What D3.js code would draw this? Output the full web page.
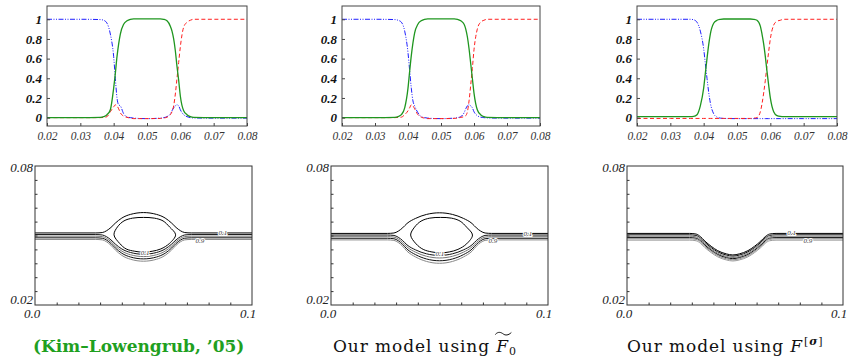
<!DOCTYPE html>
<html>
<head>
<meta charset="utf-8">
<script src="https://cdn.jsdelivr.net/npm/d3@7"></script>
<style>
  body { margin: 0; background: #fff; }
  svg { display: block; }
</style>
</head>
<body>
<svg id="fig" width="852" height="356"></svg>
<script>
// ---- profile plots (top row): sample positions and the three phase curves ----
const profX = [0.02, 0.03, 0.036, 0.037, 0.038, 0.039, 0.040, 0.0405, 0.041, 0.0415, 0.042, 0.043, 0.044, 0.045, 0.046, 0.050,
               0.054, 0.055, 0.056, 0.057, 0.0575, 0.058, 0.0585, 0.059, 0.0595, 0.060, 0.061, 0.062, 0.063, 0.064, 0.070, 0.080];

const klGreen = [0, 0, 0.003, 0.01, 0.03, 0.08, 0.3, 0.45, 0.62, 0.75, 0.85, 0.95, 0.985, 1.0, 1.005, 1.005,
                 1.005, 1.0, 0.985, 0.93, 0.88, 0.8, 0.68, 0.52, 0.38, 0.22, 0.07, 0.03, 0.01, 0.003, 0, 0];
const klBlue  = [1, 1, 0.997, 0.99, 0.96, 0.85, 0.62, 0.4, 0.2, 0.13, 0.12, 0.04, 0.008, 0, -0.005, -0.01,
                 -0.005, 0, 0.01, 0.04, 0.07, 0.1, 0.12, 0.13, 0.12, 0.08, 0.03, 0.01, 0, -0.003, -0.005, -0.005];
const klRed   = [0, 0, 0, 0.002, 0.01, 0.06, 0.11, 0.13, 0.12, 0.09, 0.05, 0.015, 0.003, -0.005, -0.01, -0.01,
                 -0.008, -0.004, 0.005, 0.03, 0.06, 0.12, 0.24, 0.4, 0.56, 0.72, 0.92, 0.97, 0.99, 1.0, 1.0, 1.0];

const f0Green = [0, 0, 0.003, 0.01, 0.03, 0.1, 0.3, 0.47, 0.63, 0.76, 0.86, 0.95, 0.985, 1.0, 1.005, 1.005,
                 1.005, 1.0, 0.985, 0.95, 0.9, 0.82, 0.7, 0.55, 0.4, 0.25, 0.08, 0.03, 0.01, 0.003, 0, 0];
const f0Blue  = [1, 1, 0.997, 0.99, 0.97, 0.88, 0.66, 0.48, 0.3, 0.17, 0.12, 0.05, 0.01, 0, -0.005, -0.01,
                 -0.005, 0, 0.01, 0.05, 0.09, 0.12, 0.13, 0.12, 0.1, 0.06, 0.02, 0.005, 0, -0.003, -0.005, -0.005];
const f0Red   = [0, 0, 0, 0.002, 0.005, 0.03, 0.07, 0.1, 0.13, 0.12, 0.09, 0.03, 0.005, -0.005, -0.01, -0.01,
                 -0.008, -0.004, 0.003, 0.01, 0.02, 0.06, 0.17, 0.33, 0.5, 0.69, 0.9, 0.97, 0.99, 1.0, 1.0, 1.0];

const fsGreen = [0.01, 0.01, 0.01, 0.012, 0.03, 0.12, 0.3, 0.45, 0.6, 0.74, 0.85, 0.96, 0.99, 1.0, 1.003, 1.003,
                 1.003, 1.0, 0.99, 0.93, 0.85, 0.75, 0.62, 0.47, 0.33, 0.2, 0.06, 0.02, 0.012, 0.01, 0.01, 0.01];
const fsBlue  = [1, 1, 1, 0.995, 0.97, 0.88, 0.7, 0.55, 0.4, 0.26, 0.15, 0.04, 0.005, -0.005, -0.008, -0.01,
                 -0.01, -0.01, -0.01, -0.01, -0.01, -0.01, -0.01, -0.01, -0.01, -0.01, -0.01, -0.01, -0.01, -0.01, -0.01, -0.01];
const fsRed   = [-0.008, -0.008, -0.008, -0.008, -0.008, -0.008, -0.008, -0.008, -0.008, -0.008, -0.008, -0.008, -0.008, -0.008, -0.008, -0.008,
                 -0.008, -0.005, 0, 0.06, 0.14, 0.25, 0.38, 0.53, 0.67, 0.8, 0.94, 0.98, 0.99, 1.0, 1.0, 1.0];

const profXTicks = [0.02, 0.03, 0.04, 0.05, 0.06, 0.07, 0.08];
const profYTicks = [0, 0.2, 0.4, 0.6, 0.8, 1];
const profYLabels = ['0', '0.2', '0.4', '0.6', '0.8', '1'];

// ---- contour plots (bottom row) ----
// each line: flat level at the band, pushed to a peak/trough following the panel's shape profile
const klContourX = [0, 0.028, 0.031, 0.033, 0.035, 0.037, 0.040, 0.044, 0.050, 0.056, 0.060, 0.063, 0.065, 0.067, 0.069, 0.072, 0.1];
const klShape    = [0, 0, 0.02, 0.11, 0.27, 0.48, 0.73, 0.91, 1, 0.91, 0.73, 0.48, 0.27, 0.11, 0.02, 0, 0];
const klBands    = [0.0511, 0.0504, 0.0497, 0.0490, 0.0483];
const klPeaks    = [0.0599, 0.0419, 0.0409, 0.0399, 0.0389];
const klLoop = [[0.0364, 0.0503], [0.038, 0.0537], [0.041, 0.0563], [0.045, 0.0575], [0.050, 0.0578], [0.055, 0.0575],
                [0.059, 0.0563], [0.062, 0.0537], [0.0648, 0.0503], [0.062, 0.0466], [0.058, 0.0442], [0.054, 0.0432],
                [0.050, 0.0428], [0.046, 0.0432], [0.042, 0.0442], [0.039, 0.0466]];
const klLabels = [['0.1', 0.0866, 0.0511], ['0.9', 0.0760, 0.0477], ['0.1', 0.0507, 0.0426]];

const f0ContourX = [0, 0.026, 0.029, 0.031, 0.033, 0.035, 0.039, 0.044, 0.050, 0.056, 0.061, 0.065, 0.067, 0.069, 0.071, 0.074, 0.1];
const f0Shape    = [0, 0, 0.02, 0.11, 0.27, 0.48, 0.73, 0.92, 1, 0.92, 0.73, 0.48, 0.27, 0.11, 0.02, 0, 0];
const f0Bands    = [0.0509, 0.0502, 0.0495, 0.0488, 0.0481];
const f0Peaks    = [0.0598, 0.0414, 0.0403, 0.0391, 0.0380];
const f0Loop = [[0.0367, 0.0502], [0.0385, 0.0536], [0.0415, 0.0562], [0.0455, 0.0575], [0.0505, 0.0578], [0.0555, 0.0575],
                [0.0595, 0.0562], [0.0625, 0.0536], [0.0652, 0.0502], [0.0625, 0.0464], [0.0585, 0.0440], [0.0545, 0.0429],
                [0.0505, 0.0425], [0.0465, 0.0429], [0.0425, 0.0440], [0.0392, 0.0464]];
const f0Labels = [['0.1', 0.0907, 0.0509], ['0.9', 0.0746, 0.0477], ['0.1', 0.0502, 0.0424]];

const fsContourX = [0, 0.029, 0.032, 0.034, 0.036, 0.039, 0.042, 0.046, 0.049, 0.052, 0.056, 0.059, 0.062, 0.064, 0.066, 0.069, 0.1];
const fsShape    = [0, 0, 0.03, 0.15, 0.35, 0.6, 0.8, 0.95, 1, 0.95, 0.8, 0.6, 0.35, 0.15, 0.03, 0, 0];
const fsBands    = [0.0509, 0.0503, 0.0497, 0.0491, 0.0486, 0.0480];
const fsPeaks    = [0.0416, 0.0411, 0.0405, 0.0400, 0.0395, 0.0390];
const fsLoop = [];
const fsLabels = [['0.1', 0.0762, 0.0512], ['0.9', 0.0837, 0.0477]];

const lineShades = ['#000', '#111', '#777', '#111', '#888', '#999'];
const botYTicks = [0.026, 0.032, 0.038, 0.044, 0.050, 0.056, 0.062, 0.068, 0.074];
const botXTicks = [0.01, 0.02, 0.03, 0.04, 0.05, 0.06, 0.07, 0.08, 0.09];

const captions = ['(Kim\u2013Lowengrub, \u201905)', 'Our model using ', 'Our model using '];

// ---------------------------------------------------------------------------
const svg = d3.select('#fig');
const SERIF = "'Liberation Serif', 'DejaVu Serif', serif";

const topBoxes = [{x0: 47, x1: 247}, {x0: 342, x1: 540}, {x0: 637, x1: 837}];
const topY0 = 6, topY1 = 126;
const botBoxes = [{x0: 35, x1: 252}, {x0: 331, x1: 548}, {x0: 627, x1: 843}];
const botY0 = 166, botY1 = 305;

function drawProfile(box, green, red, blue) {
  const x = d3.scaleLinear().domain([0.02, 0.08]).range([box.x0, box.x1]);
  const y = d3.scaleLinear().domain([-0.085, 1.135]).range([topY1, topY0]);
  const g = svg.append('g');

  const line = d3.line()
    .x((d, i) => x(profX[i]))
    .y(d => y(d))
    .curve(d3.curveMonotoneX);

  g.append('path').attr('d', line(blue))
    .attr('fill', 'none').attr('stroke', '#1e1eff').attr('stroke-width', 1)
    .attr('stroke-dasharray', '5,1.5,1,1.5,1,1.5');
  g.append('path').attr('d', line(red))
    .attr('fill', 'none').attr('stroke', '#ff1e1e').attr('stroke-width', 1)
    .attr('stroke-dasharray', '4,2.5');
  g.append('path').attr('d', line(green))
    .attr('fill', 'none').attr('stroke', '#1f961f').attr('stroke-width', 1.3);

  const xa = g.append('g').attr('transform', `translate(0,${topY1})`)
    .call(d3.axisBottom(x).tickValues(profXTicks).tickSize(-3).tickPadding(6).tickFormat(d3.format('.2f')));
  xa.select('.domain').remove();
  xa.selectAll('line').attr('stroke', '#444');
  xa.selectAll('text').attr('font-family', SERIF).attr('font-style', 'italic')
    .attr('font-size', '11.5px').attr('fill', '#333');

  const ya = g.append('g').attr('transform', `translate(${box.x0},0)`)
    .call(d3.axisLeft(y).tickValues(profYTicks).tickSize(-3).tickPadding(5)
      .tickFormat((d, i) => profYLabels[i]));
  ya.select('.domain').remove();
  ya.selectAll('line').attr('stroke', '#444');
  ya.selectAll('text').attr('font-family', SERIF).attr('font-style', 'italic').attr('font-weight', 'bold')
    .attr('font-size', '13px').attr('fill', '#111');

  g.append('rect').attr('x', box.x0).attr('y', topY0)
    .attr('width', box.x1 - box.x0).attr('height', topY1 - topY0)
    .attr('fill', 'none').attr('stroke', '#444').attr('stroke-width', 1);
}

function drawContours(box, cx, shape, bands, peaks, loop, labels) {
  const x = d3.scaleLinear().domain([0, 0.1]).range([box.x0, box.x1]);
  const y = d3.scaleLinear().domain([0.02, 0.08]).range([botY1, botY0]);
  const g = svg.append('g');

  const line = d3.line().x(d => x(d[0])).y(d => y(d[1])).curve(d3.curveMonotoneX);
  bands.forEach((b, k) => {
    const pts = cx.map((xv, i) => [xv, b + shape[i] * (peaks[k] - b)]);
    g.append('path').attr('d', line(pts))
      .attr('fill', 'none').attr('stroke', lineShades[k % lineShades.length]).attr('stroke-width', 1);
  });
  if (loop.length) {
    const loopLine = d3.line().x(d => x(d[0])).y(d => y(d[1])).curve(d3.curveCatmullRomClosed.alpha(0.5));
    g.append('path').attr('d', loopLine(loop))
      .attr('fill', 'none').attr('stroke', '#000').attr('stroke-width', 1);
  }

  labels.forEach(([t, lx, ly]) => {
    g.append('text').attr('x', x(lx)).attr('y', y(ly)).attr('dy', '0.35em')
      .attr('text-anchor', 'middle').attr('font-family', SERIF).attr('font-style', 'italic')
      .attr('font-size', '7px').attr('fill', '#333')
      .attr('stroke', '#fff').attr('stroke-width', 2).attr('paint-order', 'stroke')
      .text(t);
  });

  const ya = g.append('g').attr('transform', `translate(${box.x0},0)`)
    .call(d3.axisLeft(y).tickValues(botYTicks).tickSize(-2.5).tickFormat(''));
  ya.select('.domain').remove();
  ya.selectAll('line').attr('stroke', '#333');
  const xa = g.append('g').attr('transform', `translate(0,${botY1})`)
    .call(d3.axisBottom(x).tickValues(botXTicks).tickSize(-2.5).tickFormat(''));
  xa.select('.domain').remove();
  xa.selectAll('line').attr('stroke', '#333');

  g.append('rect').attr('x', box.x0).attr('y', botY0)
    .attr('width', box.x1 - box.x0).attr('height', botY1 - botY0)
    .attr('fill', 'none').attr('stroke', '#333').attr('stroke-width', 1);

  const lab = (t, px, py, anchor) => g.append('text').attr('x', px).attr('y', py)
    .attr('text-anchor', anchor).attr('font-family', SERIF).attr('font-style', 'italic')
    .attr('font-size', '13px').attr('fill', '#222').text(t);
  lab('0.08', box.x0 - 2, y(0.08) + 5.5, 'end');
  lab('0.02', box.x0 - 2, y(0.02) - 1, 'end');
  lab('0.0', x(0) - 3, botY1 + 13, 'middle');
  lab('0.1', x(0.1) - 4, botY1 + 13, 'middle');
}

drawProfile(topBoxes[0], klGreen, klRed, klBlue);
drawProfile(topBoxes[1], f0Green, f0Red, f0Blue);
drawProfile(topBoxes[2], fsGreen, fsRed, fsBlue);

drawContours(botBoxes[0], klContourX, klShape, klBands, klPeaks, klLoop, klLabels);
drawContours(botBoxes[1], f0ContourX, f0Shape, f0Bands, f0Peaks, f0Loop, f0Labels);
drawContours(botBoxes[2], fsContourX, fsShape, fsBands, fsPeaks, fsLoop, fsLabels);

// ---- captions ----
const CAP = "'DejaVu Serif', serif";
const capY = 351.5;

svg.append('text').attr('x', 33).attr('y', capY)
  .attr('font-family', CAP).attr('font-weight', 'bold').attr('font-size', '17px')
  .attr('fill', '#1fa01f').text(captions[0]);

// caption 2: "Our model using F~_0"
const c2 = svg.append('text').attr('x', 333).attr('y', capY)
  .attr('font-family', CAP).attr('font-size', '17px').attr('letter-spacing', '0.9px').attr('fill', '#111');
c2.append('tspan').text(captions[1]);
const f2 = c2.append('tspan').attr('font-style', 'italic').text('F');
c2.append('tspan').attr('font-size', '11px').attr('dy', 3).text('0');
const fBox = f2.node().getExtentOfChar(0);
svg.append('path')
  .attr('d', `M${fBox.x - 1},${capY - 17} c3,-3.5 6,-2 8,-0.5 s5,1.5 8,-1.5`)
  .attr('fill', 'none').attr('stroke', '#111').attr('stroke-width', 1);

// caption 3: "Our model using F^[sigma]"
const c3 = svg.append('text').attr('x', 627).attr('y', capY)
  .attr('font-family', CAP).attr('font-size', '17px').attr('letter-spacing', '0.9px').attr('fill', '#111');
c3.append('tspan').text(captions[2]);
c3.append('tspan').attr('font-style', 'italic').text('F');
c3.append('tspan').attr('font-size', '11px').attr('dy', -7).attr('dx', 1).text('[');
c3.append('tspan').attr('font-size', '11px').attr('font-weight', 'bold').attr('font-style', 'italic').text('\u03c3');
c3.append('tspan').attr('font-size', '11px').text(']');
</script>
</body>
</html>
